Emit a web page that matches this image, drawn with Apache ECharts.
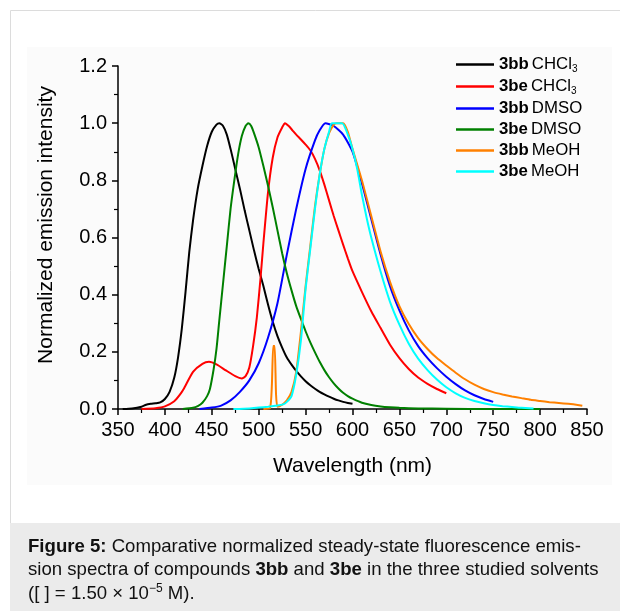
<!DOCTYPE html>
<html>
<head>
<meta charset="utf-8">
<script src="https://cdn.jsdelivr.net/npm/echarts@6/dist/echarts.min.js"></script>
<style>
html,body{margin:0;padding:0;background:#fff;}
#c{width:620px;height:611px;}
</style>
</head>
<body>
<div id="c"></div>
<script>
// ---- data (wavelength nm, normalized intensity) ----
const bbCHCl3 = [[355,0],[365,0.002],[375,0.008],[380,0.015],[385,0.018],[390,0.02],[395,0.023],[400,0.035],[405,0.06],[410,0.11],[414,0.18],[418,0.28],[422,0.41],[426,0.55],[430,0.66],[435,0.77],[440,0.85],[445,0.92],[450,0.97],[455,0.995],[458,1.0],[462,0.99],[466,0.96],[470,0.91],[475,0.84],[480,0.77],[485,0.695],[490,0.625],[495,0.555],[500,0.49],[505,0.43],[510,0.365],[515,0.305],[520,0.255],[525,0.215],[530,0.18],[535,0.155],[540,0.133],[545,0.114],[550,0.097],[555,0.083],[560,0.071],[565,0.06],[570,0.051],[575,0.043],[580,0.036],[585,0.03],[590,0.025],[595,0.021],[600,0.018]];
const beCHCl3 = [[375,0],[390,0.003],[400,0.009],[410,0.027],[416,0.05],[420,0.07],[430,0.13],[440,0.158],[447,0.165],[455,0.156],[465,0.135],[475,0.115],[482,0.107],[486,0.115],[490,0.145],[494,0.22],[498,0.32],[502,0.46],[505,0.58],[510,0.76],[515,0.88],[520,0.95],[525,0.985],[528,1.0],[532,0.99],[536,0.975],[540,0.96],[545,0.943],[550,0.925],[555,0.905],[560,0.875],[565,0.835],[570,0.785],[575,0.73],[580,0.675],[585,0.625],[590,0.575],[595,0.527],[600,0.482],[610,0.41],[620,0.342],[630,0.283],[640,0.225],[650,0.178],[660,0.14],[670,0.11],[680,0.088],[690,0.07],[700,0.055]];
const bbDMSO = [[437,0],[450,0.005],[460,0.012],[470,0.03],[480,0.06],[490,0.10],[500,0.16],[510,0.25],[520,0.37],[530,0.54],[540,0.70],[550,0.84],[560,0.94],[565,0.975],[571,1.0],[580,0.99],[590,0.96],[600,0.90],[610,0.79],[620,0.665],[630,0.54],[640,0.43],[650,0.345],[660,0.275],[670,0.22],[680,0.178],[690,0.143],[700,0.113],[710,0.087],[720,0.065],[730,0.048],[740,0.035],[750,0.025]];
const beDMSO = [[419,0],[430,0.004],[435,0.01],[440,0.022],[445,0.045],[448,0.07],[452,0.14],[455,0.21],[458,0.31],[462,0.44],[466,0.57],[470,0.70],[474,0.80],[478,0.89],[482,0.955],[486,0.99],[489,1.0],[492,0.99],[495,0.965],[500,0.915],[505,0.85],[510,0.78],[515,0.705],[520,0.625],[525,0.545],[530,0.475],[535,0.415],[540,0.36],[545,0.315],[550,0.272],[555,0.233],[560,0.198],[565,0.165],[570,0.136],[575,0.111],[580,0.09],[585,0.072],[590,0.057],[595,0.045],[600,0.036],[610,0.022],[620,0.014],[630,0.009],[640,0.006],[650,0.004],[670,0.002],[700,0.001],[750,0],[800,0]];
const bbMeOH = [[505,0],[512,0.003],[514,0.08],[515.5,0.22],[517,0.22],[518.5,0.05],[520,0.008],[525,0.015],[530,0.03],[535,0.06],[540,0.13],[545,0.27],[550,0.43],[555,0.57],[560,0.71],[565,0.82],[570,0.91],[575,0.965],[580,0.995],[583,1.0],[590,1.0],[595,0.97],[600,0.91],[610,0.80],[620,0.675],[630,0.55],[640,0.445],[650,0.36],[660,0.297],[670,0.248],[680,0.21],[690,0.178],[700,0.152],[710,0.127],[720,0.104],[730,0.085],[740,0.07],[750,0.059],[760,0.051],[770,0.044],[780,0.038],[790,0.032],[800,0.028],[810,0.024],[820,0.021],[830,0.018],[840,0.014],[845,0.011]];
const beMeOH = [[473,0],[490,0.002],[500,0.005],[510,0.008],[520,0.012],[526,0.016],[530,0.025],[535,0.045],[540,0.12],[545,0.24],[550,0.42],[555,0.56],[560,0.70],[565,0.82],[570,0.91],[575,0.97],[578,1.0],[589,1.0],[595,0.96],[600,0.91],[605,0.84],[610,0.75],[615,0.67],[620,0.60],[630,0.48],[640,0.375],[650,0.295],[660,0.228],[670,0.176],[680,0.136],[690,0.103],[700,0.076],[710,0.055],[720,0.039],[730,0.028],[740,0.02],[750,0.014],[760,0.01],[770,0.007],[780,0.004],[793,0.002]];

const seriesNames = ['3bb CHCl3','3be CHCl3','3bb DMSO','3be DMSO','3bb MeOH','3be MeOH'];
const seriesColors = ['#000000','#ff0000','#0000ff','#008000','#ff8000','#00ffff'];
const seriesData = [bbCHCl3, beCHCl3, bbDMSO, beDMSO, bbMeOH, beMeOH];

const xTitle = 'Wavelength (nm)';
const yTitle = 'Normalized emission intensity';
const captionLines = [
  '{b|Figure 5:} Comparative normalized steady-state fluorescence emis-',
  'sion spectra of compounds {b|3bb} and {b|3be} in the three studied solvents',
  '([ ] = 1.50 \u00d7 10{sup|\u22125} M).'
];

const FONT = '"Liberation Sans", Arial, Helvetica, sans-serif';
const chart = echarts.init(document.getElementById('c'), null, {renderer: 'canvas'});

function legendFmt(name) {
  const parts = name.split(' ');
  const cmpd = parts[0], solv = parts[1];
  if (solv === 'CHCl3') return '{b|' + cmpd + '}{n|CHCl}{s|3}';
  return '{b|' + cmpd + '}{n|' + solv + '}';
}

chart.setOption({
  backgroundColor: '#ffffff',
  animation: false,
  textStyle: {fontFamily: FONT},
  graphic: [
    {type: 'rect', z: -10, shape: {x: 10.5, y: 10.5, width: 620, height: 520}, style: {fill: '#ffffff', stroke: '#dcdcdc', lineWidth: 1}},
    {type: 'rect', z: -9, shape: {x: 27, y: 47, width: 585, height: 438}, style: {fill: '#fbfbfb'}},
    {type: 'rect', z: -8, shape: {x: 10, y: 523, width: 610, height: 88}, style: {fill: '#ebebeb'}},
    {type: 'text', x: 46, y: 225, rotation: Math.PI / 2,
      style: {text: yTitle, fill: '#000', font: '21px ' + FONT, align: 'center', verticalAlign: 'middle'}},
    ...captionLines.map((t, i) => ({
      type: 'text', left: 28, top: 537 + i * 23,
      style: {
        text: t, fill: '#111', font: '18.6px ' + FONT,
        rich: {
          b: {fontWeight: 'bold', fontSize: 18.6, fontFamily: FONT, fill: '#111'},
          sup: {fontSize: 12, fontFamily: FONT, fill: '#111', padding: [0, 0, 9, 0]}
        }
      }
    }))
  ],
  legend: {
    orient: 'vertical',
    left: 451, top: 51,
    icon: 'rect',
    itemWidth: 38, itemHeight: 2.5,
    itemGap: 4,
    data: seriesNames,
    formatter: legendFmt,
    textStyle: {
      color: '#000', fontSize: 16.5, lineHeight: 17,
      rich: {
        b: {fontWeight: 'bold', fontSize: 16.8, fontFamily: FONT, color: '#000', padding: [0, 3, 0, 0]},
        n: {fontSize: 16.8, fontFamily: FONT, color: '#000'},
        s: {fontSize: 10, fontFamily: FONT, color: '#000', padding: [9, 0, 0, 0]}
      }
    }
  },
  grid: {left: 118, top: 66, right: 33, bottom: 202, containLabel: false},
  xAxis: {
    type: 'value', min: 350, max: 850, interval: 50,
    name: xTitle, nameLocation: 'middle', nameGap: 47,
    nameTextStyle: {fontSize: 21, color: '#000', fontFamily: FONT},
    axisLine: {show: true, onZero: false, lineStyle: {color: '#000', width: 1.5}},
    axisTick: {show: true, inside: false, length: 6, lineStyle: {color: '#000', width: 1.5}},
    minorTick: {show: true, splitNumber: 2, length: 4, lineStyle: {color: '#000', width: 1.2}},
    axisLabel: {fontSize: 20, color: '#000', margin: 11, fontFamily: FONT},
    splitLine: {show: false}
  },
  yAxis: {
    type: 'value', min: 0, max: 1.2, interval: 0.2,
    axisLine: {show: true, onZero: false, lineStyle: {color: '#000', width: 1.5}},
    axisTick: {show: true, inside: false, length: 6, lineStyle: {color: '#000', width: 1.5}},
    minorTick: {show: true, splitNumber: 2, length: 4, lineStyle: {color: '#000', width: 1.2}},
    axisLabel: {fontSize: 20, color: '#000', margin: 11, fontFamily: FONT, formatter: v => v.toFixed(1)},
    splitLine: {show: false}
  },
  series: seriesNames.map((n, i) => ({
    name: n, type: 'line', data: seriesData[i],
    showSymbol: false, symbol: 'none', smooth: 0.2,
    color: seriesColors[i],
    lineStyle: {color: seriesColors[i], width: 2},
    z: 2 + i
  }))
});
</script>
</body>
</html>
